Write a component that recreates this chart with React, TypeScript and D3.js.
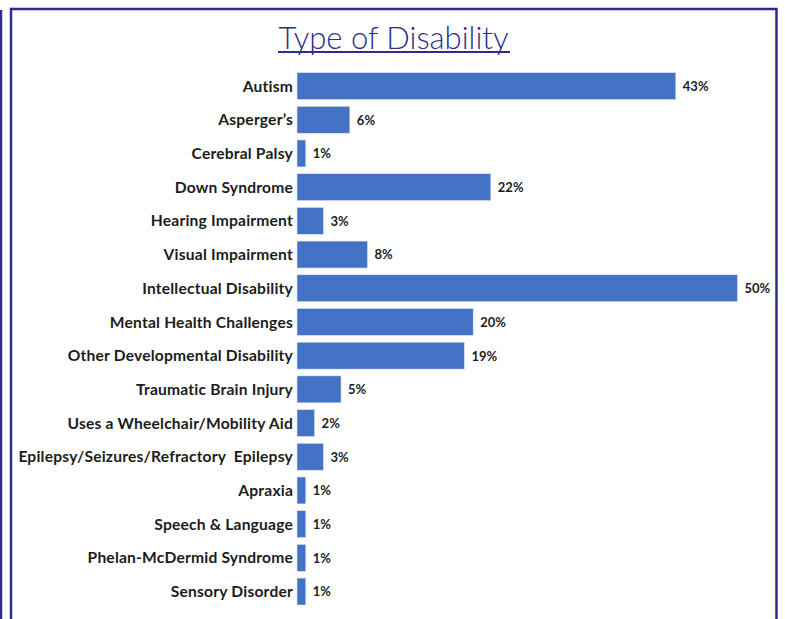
import React from "react";
import * as d3 from "d3";

const categories = [
  "Autism",
  "Asperger\u2019s",
  "Cerebral Palsy",
  "Down Syndrome",
  "Hearing Impairment",
  "Visual Impairment",
  "Intellectual Disability",
  "Mental Health Challenges",
  "Other Developmental Disability",
  "Traumatic Brain Injury",
  "Uses a Wheelchair/Mobility Aid",
  "Epilepsy/Seizures/Refractory\u00a0 Epilepsy",
  "Apraxia",
  "Speech & Language",
  "Phelan-McDermid Syndrome",
  "Sensory Disorder",
];
const values = [43, 6, 1, 22, 3, 8, 50, 20, 19, 5, 2, 3, 1, 1, 1, 1];
const title = "Type of Disability";

const W = 785;
const H = 619;
const NAVY = "#2f2d8c";
const BLUE = "#4472c4";

export default function App() {
  const x = d3.scaleLinear().domain([0, 50]).range([297, 737.5]);
  const y = d3
    .scaleBand<string>()
    .domain(categories)
    .range([69.2, 608.4])
    .paddingInner(0.2)
    .paddingOuter(0.1);
  const data = categories.map((c, i) => ({ c, v: values[i] }));
  return (
    <svg
      width={W}
      height={H}
      style={{ position: "absolute", left: 0, top: 0, background: "#fff" }}
    >
      <rect x={0} y={0} width={W} height={H} fill="#fff" />
      {/* frames */}
      <line x1={1} x2={1} y1={10} y2={H} stroke={NAVY} strokeWidth={2.5} />
      <rect
        x={11}
        y={9}
        width={765.5}
        height={H + 20}
        fill="none"
        stroke={NAVY}
        strokeWidth={2.5}
      />
      {/* title */}
      <text
        x={393.5}
        y={49}
        textAnchor="middle"
        fontFamily="Lato, sans-serif"
        fontWeight={300}
        fontSize={32}
        fill={NAVY}
        textLength={230}
        lengthAdjust="spacingAndGlyphs"
      >
        {title}
      </text>
      <line x1={278} x2={510} y1={52} y2={52} stroke={NAVY} strokeWidth={2} />
      {data.map((d) => {
        const yy = y(d.c)!;
        const bw = y.bandwidth();
        return (
          <g key={d.c}>
            <rect
              x={x(0)}
              y={yy}
              width={x(d.v) - x(0)}
              height={bw}
              fill={BLUE}
              stroke="#dfe6f3"
              strokeWidth={0.6}
            />
            <text
              x={293}
              y={yy + bw / 2}
              dy="0.36em"
              textAnchor="end"
              fontFamily="Lato, sans-serif"
              fontWeight={700}
              fontSize={15.6}
              letterSpacing={0.2}
              fill="#1c1c1c"
            >
              {d.c}
            </text>
            <text
              x={x(d.v) + 7}
              y={yy + bw / 2}
              dy="0.38em"
              fontFamily="Lato, sans-serif"
              fontWeight={700}
              fontSize={13}
              fill="#1c1c1c"
            >
              {d.v + "%"}
            </text>
          </g>
        );
      })}
    </svg>
  );
}
